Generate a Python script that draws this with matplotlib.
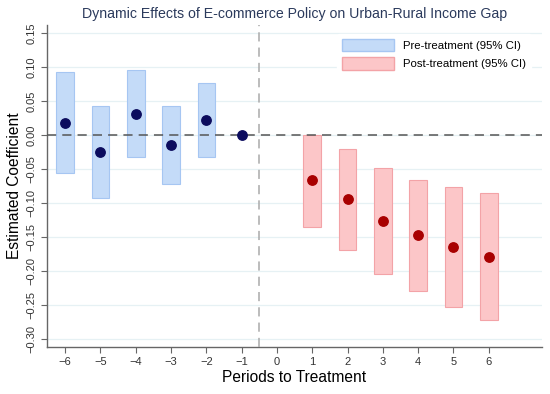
import matplotlib.pyplot as plt
from matplotlib.patches import Patch

plt.rcParams['font.family'] = ['Liberation Sans', 'DejaVu Sans']

# pre-treatment periods
pre_x = [-6, -5, -4, -3, -2]
pre_coef = [0.018, -0.025, 0.031, -0.015, 0.022]
pre_lo = [-0.056, -0.093, -0.032, -0.072, -0.032]
pre_hi = [0.092, 0.043, 0.096, 0.043, 0.076]

# reference period
ref_x = [-1]
ref_coef = [0.0]

# post-treatment periods
post_x = [1, 2, 3, 4, 5, 6]
post_coef = [-0.067, -0.095, -0.127, -0.148, -0.165, -0.180]
post_lo = [-0.136, -0.169, -0.205, -0.230, -0.253, -0.273]
post_hi = [0.0, -0.021, -0.049, -0.066, -0.077, -0.086]

xticks = list(range(-6, 7))
yticks = [-0.30, -0.25, -0.20, -0.15, -0.10, -0.05, 0.00, 0.05, 0.10, 0.15]

pre_face, pre_edge, pre_dot = "#c4dbf8", "#a6c6f2", "#0c0c5e"
post_face, post_edge, post_dot = "#fcc6c8", "#f3a3a7", "#a80000"

fig = plt.figure(figsize=(5.5, 3.94), dpi=100)
ax = fig.add_axes([0.085, 0.12, 0.9, 0.817])

# CI boxes
ax.bar(pre_x, [h - l for l, h in zip(pre_lo, pre_hi)], bottom=pre_lo, width=0.5,
       color=pre_face, edgecolor=pre_edge, linewidth=0.8, zorder=2)
ax.bar(post_x, [h - l for l, h in zip(post_lo, post_hi)], bottom=post_lo, width=0.5,
       color=post_face, edgecolor=post_edge, linewidth=0.8, zorder=2)

# reference lines
ax.axhline(0, color="#555555", linestyle=(0, (6, 4)), linewidth=1.1, zorder=3)
ax.axvline(-0.5, color="#aaaaaa", linestyle=(0, (6, 4)), linewidth=1.1, zorder=3)

# point estimates
ax.scatter(pre_x + ref_x, pre_coef + ref_coef, s=46, color=pre_dot, zorder=4)
ax.scatter(post_x, post_coef, s=46, color=post_dot, zorder=4)

ax.set_xlim(-6.52, 7.5)
ax.set_ylim(-0.312, 0.162)
ax.set_xticks(xticks)
ax.set_xticklabels([str(t).replace("-", "\u2212") for t in xticks], fontsize=8)
ax.set_yticks(yticks)
ax.set_yticklabels([f"{t:.2f}".replace("-", "\u2212") for t in yticks],
                   fontsize=8, rotation=90, va="center")

ax.grid(axis="y", color="#e6f1f4", linewidth=0.9, zorder=0)
ax.set_axisbelow(True)
for s in ["top", "right"]:
    ax.spines[s].set_visible(False)
for s in ["left", "bottom"]:
    ax.spines[s].set_color("#666666")
    ax.spines[s].set_linewidth(1.0)
ax.tick_params(colors="#333333", length=4, color="#666666")

ax.set_title("Dynamic Effects of E-commerce Policy on Urban-Rural Income Gap",
             fontsize=10.2, color="#2b3a5c", pad=5)
ax.set_xlabel("Periods to Treatment", fontsize=11.2, labelpad=2)
ax.set_ylabel("Estimated Coefficient", fontsize=11.2, labelpad=3)

handles = [Patch(facecolor=pre_face, edgecolor=pre_edge, label="Pre-treatment (95% CI)"),
           Patch(facecolor=post_face, edgecolor=post_edge, label="Post-treatment (95% CI)")]
leg = ax.legend(handles=handles, loc="upper right", frameon=True, fontsize=8.2,
                handlelength=4.6, handleheight=1.35, handletextpad=0.8,
                borderaxespad=0.3, bbox_to_anchor=(0.985, 0.982))
leg.get_frame().set_edgecolor("white")
leg.get_frame().set_facecolor("white")
leg.get_frame().set_alpha(1.0)

fig.savefig("out.png", dpi=100)
